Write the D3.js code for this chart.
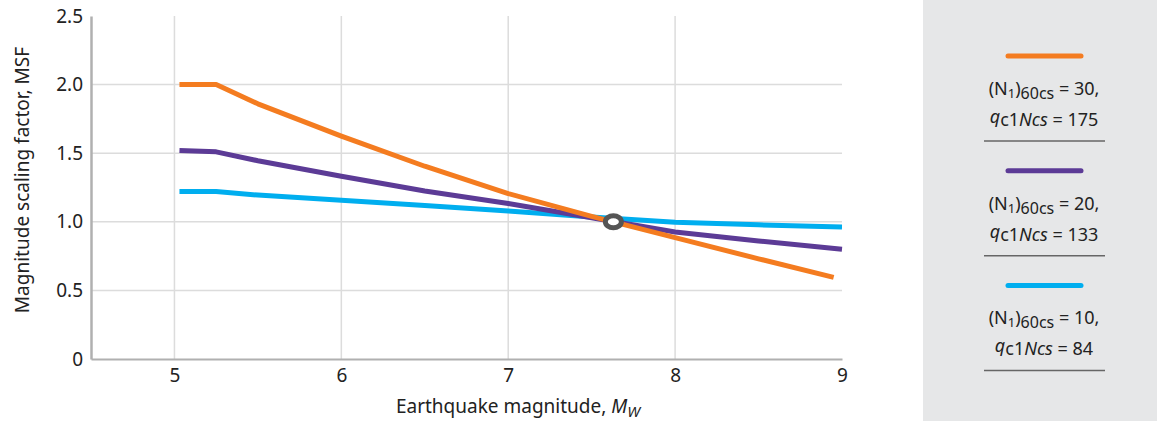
<!DOCTYPE html>
<html>
<head>
<meta charset="utf-8">
<script src="https://cdn.jsdelivr.net/npm/d3@7"></script>
<style>
  body { margin: 0; background: #fff; }
  svg text { font-family: "Noto Sans", "Open Sans", sans-serif; fill: #222; }
</style>
</head>
<body>
<svg id="chart" width="1157" height="421"></svg>
<script>
// magnitudes
var magnitudes = [5.03, 5.25, 5.5, 6, 6.5, 7, 7.5, 8, 8.5, 8.95];
var magnitudesLong = [5.03, 5.25, 5.5, 6, 6.5, 7, 7.5, 8, 8.5, 9];
var msfN30 = [2.0, 2.0, 1.86, 1.625, 1.405, 1.206, 1.04, 0.885, 0.73, 0.595];
var msfN20 = [1.52, 1.51, 1.445, 1.332, 1.225, 1.133, 1.03, 0.926, 0.86, 0.80];
var msfN10 = [1.22, 1.22, 1.195, 1.157, 1.118, 1.079, 1.035, 0.996, 0.978, 0.962];
var xTicks = [5, 6, 7, 8, 9];
var yTicks = [0, 0.5, 1.0, 1.5, 2.0, 2.5];
var crossPoint = [7.63, 1.0];
var legendN = ["30", "20", "10"];
var legendQ = ["175", "133", "84"];
var colors = ["#f47c20", "#5c3b96", "#00aeef"];

var svg = d3.select("#chart");

var x = d3.scaleLinear().domain([4.5, 9]).range([91, 842]);
var y = d3.scaleLinear().domain([0, 2.5]).range([359, 16]);

// grid
svg.append("g").selectAll("line.vg")
    .data(xTicks.filter(function(d){ return d < 9; }))
    .enter().append("line")
    .attr("x1", function(d){ return x(d); })
    .attr("x2", function(d){ return x(d); })
    .attr("y1", y(2.5)).attr("y2", y(0))
    .attr("stroke", "#dcdcdc").attr("stroke-width", 1.5);

svg.append("g").selectAll("line.hg")
    .data(yTicks.filter(function(d){ return d > 0 && d < 2.5; }))
    .enter().append("line")
    .attr("x1", x(4.5)).attr("x2", x(9))
    .attr("y1", function(d){ return y(d); })
    .attr("y2", function(d){ return y(d); })
    .attr("stroke", "#dcdcdc").attr("stroke-width", 1.5);

// axes
var xAxis = d3.axisBottom(x).tickValues(xTicks).tickSize(0).tickPadding(10)
    .tickFormat(d3.format("d"));
var gx = svg.append("g").attr("transform", "translate(0," + y(0) + ")").call(xAxis);
gx.select(".domain").attr("stroke", "#b0b0b0").attr("stroke-width", 2);
gx.selectAll("text").style("font-size", "19px").attr("fill", "#222");

var yAxis = d3.axisLeft(y).tickValues(yTicks).tickSize(0).tickPadding(8)
    .tickFormat(function(d){ return d === 0 ? "0" : d3.format(".1f")(d); });
var gy = svg.append("g").attr("transform", "translate(" + x(4.5) + ",0)").call(yAxis);
gy.select(".domain").attr("stroke", "#b0b0b0").attr("stroke-width", 2.5);
gy.selectAll("text").style("font-size", "19px").attr("fill", "#222");

// axis titles
svg.append("text")
    .attr("transform", "translate(29,180) rotate(-90)")
    .attr("text-anchor", "middle")
    .style("font-size", "19px")
    .text("Magnitude scaling factor, MSF");

var xt = svg.append("text")
    .attr("x", 518).attr("y", 413)
    .attr("text-anchor", "middle")
    .style("font-size", "19px");
xt.append("tspan").text("Earthquake magnitude, ");
xt.append("tspan").style("font-style", "italic").text("M");
xt.append("tspan").style("font-style", "italic").style("font-size", "15px")
    .attr("dy", 4).text("W");

// curves
var series = [
    magnitudes.map(function(m, i){ return [m, msfN30[i]]; }),
    magnitudesLong.map(function(m, i){ return [m, msfN20[i]]; }),
    magnitudesLong.map(function(m, i){ return [m, msfN10[i]]; })
];

var line = d3.line()
    .x(function(d){ return x(d[0]); })
    .y(function(d){ return y(d[1]); })
    .curve(d3.curveLinear);

// blue first, orange on top like the picture
[2, 1, 0].forEach(function(i){
    svg.append("path")
        .attr("d", line(series[i]))
        .attr("fill", "none")
        .attr("stroke", colors[i])
        .attr("stroke-width", 5)
        .attr("stroke-linejoin", "round");
});

// crossing marker
svg.append("ellipse")
    .attr("cx", x(crossPoint[0])).attr("cy", y(crossPoint[1]))
    .attr("rx", 8).attr("ry", 6)
    .attr("fill", "#fff").attr("stroke", "#555").attr("stroke-width", 5);

// legend panel
svg.append("rect")
    .attr("x", 923).attr("y", 0).attr("width", 234).attr("height", 421)
    .attr("fill", "#e6e7e8");

var leg = svg.append("g").selectAll("g")
    .data(legendN)
    .enter().append("g")
    .attr("transform", function(d, i){ return "translate(0," + (i * 114.7) + ")"; });

leg.append("line")
    .attr("x1", 1008).attr("x2", 1081).attr("y1", 56).attr("y2", 56)
    .attr("stroke", function(d, i){ return colors[i]; })
    .attr("stroke-width", 5).attr("stroke-linecap", "round");

var t1 = leg.append("text")
    .attr("x", 1044).attr("y", 95)
    .attr("text-anchor", "middle")
    .style("font-size", "18px");
t1.append("tspan").text("(N");
t1.append("tspan").style("font-size", "13px").attr("dy", 3).text("1");
t1.append("tspan").attr("dy", -3).text(")");
t1.append("tspan").style("font-size", "16px").attr("dy", 4).text("60cs");
t1.append("tspan").attr("dy", -4).text(function(d){ return " = " + d + ","; });

var t2 = leg.append("text")
    .attr("x", 1044).attr("y", 126)
    .attr("text-anchor", "middle")
    .style("font-size", "18px");
t2.append("tspan").style("font-style", "italic").attr("dy", -3).text("q");
t2.append("tspan").attr("dy", 3).text("c1");
t2.append("tspan").style("font-style", "italic").text("Ncs");
t2.append("tspan").text(function(d, i){ return " = " + legendQ[i]; });

leg.append("line")
    .attr("x1", 984).attr("x2", 1105).attr("y1", 141).attr("y2", 141)
    .attr("stroke", "#666").attr("stroke-width", 1.5);
</script>
</body>
</html>
